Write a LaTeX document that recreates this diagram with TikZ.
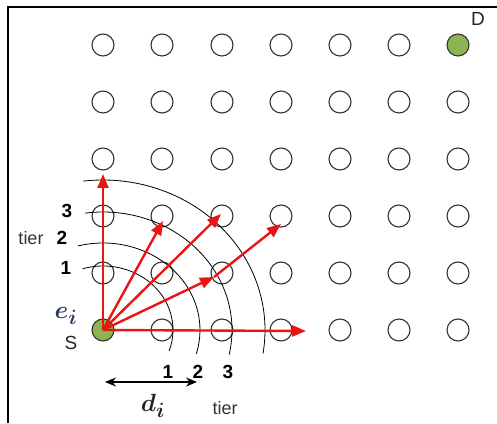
\documentclass[tikz,border=0pt]{standalone}
\usepackage{bm}
\usepackage{fontspec}
\setmainfont{Liberation Sans}
\usetikzlibrary{arrows.meta}
\definecolor{nodegreen}{RGB}{140,180,80}
\definecolor{arrowred}{RGB}{235,20,20}
\definecolor{eblue}{RGB}{40,55,100}
\tikzset{
  grid node/.style={circle,draw=black!80,line width=1.1pt,minimum size=22pt,inner sep=0pt},
  end node/.style={grid node,fill=nodegreen},
  tierarc/.style={draw=black,line width=0.8pt},
  redarrow/.style={draw=arrowred,line width=2.4pt,-{Triangle[length=14pt,width=11pt]}},
  numlabel/.style={font=\fontsize{19}{19}\selectfont\bfseries,inner sep=0pt},
  tierlabel/.style={font=\fontsize{18}{18}\selectfont,text=black!80,inner sep=0pt},
  dimarrow/.style={draw=black,line width=1.2pt,{Stealth[length=11pt,width=9pt]}-{Stealth[length=11pt,width=9pt]}}
}
\begin{document}
\begin{tikzpicture}[x=1pt,y=1pt]
\useasboundingbox (0,0) rectangle (497,423);
% frame (top and left)
\draw[line width=1.6pt] (8,0) -- (8,416) -- (497,416);
% grid of nodes
\foreach \x [count=\i] in {103,162,222,281,340,399,458}{
  \foreach \y [count=\j] in {378,321,264,207,150,93}{
    \ifnum\i=1 \ifnum\j=6 \else \node[grid node] (c-\i-\j) at (\x,\y) {};\fi
    \else \ifnum\i=7 \ifnum\j=1 \else \node[grid node] (c-\i-\j) at (\x,\y) {};\fi
    \else \node[grid node] (c-\i-\j) at (\x,\y) {};\fi\fi
  }
}
\node[end node] (S) at (103,93) {};
\node[end node] (D) at (458,378) {};
\node[font=\fontsize{19}{19}\selectfont,text=black!85,inner sep=0pt] (Dlab) at (478,404) {D};
\node[font=\fontsize{19}{19}\selectfont,text=black!85,inner sep=0pt] (Slab) at (71,80) {S};
\node[font=\fontsize{28}{28}\selectfont,text=eblue,inner sep=0pt] (elab) at (66,107) {$\bm{e_i}$};
% tier arcs (centered at S)
\draw[tierarc] (S.center) ++(107:70 and 64) arc[start angle=107,end angle=-19,x radius=70,y radius=64];
\draw[tierarc] (S.center) ++(105:97 and 87) arc[start angle=105,end angle=-16,x radius=97,y radius=87];
\draw[tierarc] (S.center) ++(98:129 and 118) arc[start angle=98,end angle=-12,x radius=129,y radius=118];
\draw[tierarc] (S.center) ++(97:162 and 150) arc[start angle=97,end angle=-9,x radius=162,y radius=150];
% tier labels
\node[numlabel] (l1) at (66,155) {1};
\node[numlabel] (l2) at (62,185) {2};
\node[numlabel] (l3) at (67,212) {3};
\node[tierlabel] (lt) at (31,185) {tier};
\node[numlabel] (b1) at (168,51) {1};
\node[numlabel] (b2) at (198,51) {2};
\node[numlabel] (b3) at (228,51) {3};
\node[tierlabel] (bt) at (225,15) {tier};
% distance arrow
\coordinate (da) at (105,41);
\coordinate (db) at (197,41);
\draw[dimarrow] (da) -- (db);
\node[font=\fontsize{28}{28}\selectfont,text=black!85,inner sep=0pt] (dlab) at (153,17) {$\bm{d_i}$};
% red arrows
\coordinate (t1) at (103,249);
\coordinate (t2) at (163,202);
\coordinate (t3) at (221,209);
\coordinate (m4) at (214,146);
\coordinate (t4) at (281,199);
\coordinate (t5) at (306,92);
\draw[redarrow] (S.center) -- (t1);
\draw[redarrow] (S.center) -- (t2);
\draw[redarrow] (S.center) -- (t3);
\draw[redarrow] (S.center) -- (m4);
\draw[redarrow] (m4) -- (t4);
\draw[redarrow] (S.center) -- (t5);
\end{tikzpicture}
\end{document}
